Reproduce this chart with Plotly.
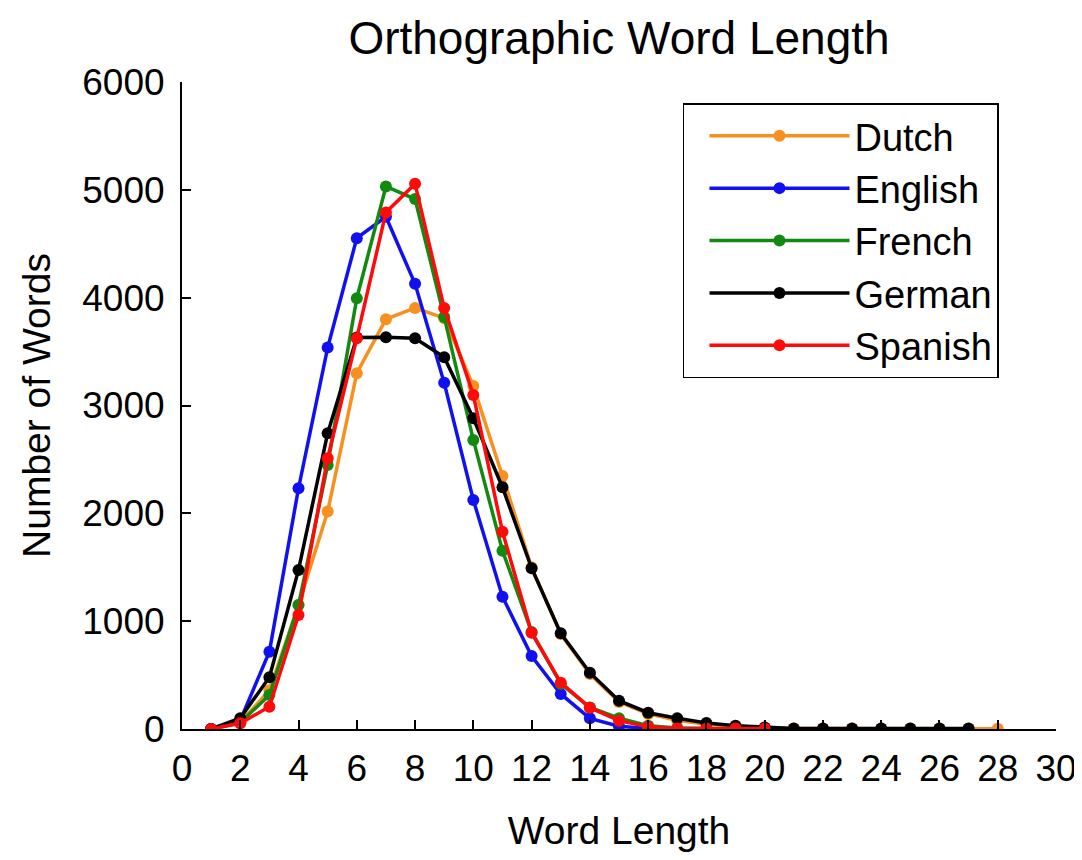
import plotly.graph_objects as go

# Word length categories per language
dutch_x = list(range(1, 29))
dutch_y = [0, 60, 360, 1150, 2016, 3300, 3800, 3905, 3810, 3180, 2347, 1500, 880, 510,
           250, 140, 80, 45, 25, 12, 5, 5, 5, 5, 5, 5, 5, 3]

english_x = list(range(1, 17))
english_y = [0, 80, 717, 2233, 3537, 4552, 4750, 4128, 3210, 2124, 1227, 677, 325, 99, 25, 5]

french_x = list(range(1, 19))
french_y = [0, 60, 315, 1150, 2449, 3995, 5031, 4914, 3820, 2681, 1654, 900, 420, 200,
            100, 30, 10, 5]

german_x = list(range(1, 28))
german_y = [0, 100, 480, 1475, 2743, 3630, 3633, 3624, 3448, 2882, 2242, 1491, 888, 522,
            263, 151, 99, 55, 30, 15, 5, 5, 5, 5, 5, 5, 5]

spanish_x = list(range(1, 21))
spanish_y = [0, 53, 207, 1057, 2511, 3624, 4790, 5056, 3905, 3098, 1830, 893, 430, 198,
             77, 20, 5, 5, 5, 5]

series = [
    ("Dutch", dutch_x, dutch_y, "#F7901E"),
    ("English", english_x, english_y, "#1010F0"),
    ("French", french_x, french_y, "#128A12"),
    ("German", german_x, german_y, "#000000"),
    ("Spanish", spanish_x, spanish_y, "#FF0A0A"),
]

FONT = "Liberation Sans, Arial, sans-serif"

fig = go.Figure()
for name, xs, ys, col in series:
    fig.add_trace(go.Scatter(
        x=xs, y=ys, name=name, mode="lines+markers",
        line=dict(color=col, width=3.5),
        marker=dict(color=col, size=12),
    ))

W, H = 1074, 844
fig.update_layout(
    width=W, height=H,
    margin=dict(l=174, r=26, t=74, b=123, autoexpand=False),
    paper_bgcolor="white", plot_bgcolor="white",
    font=dict(family=FONT, color="black"),
    title=dict(text="Orthographic Word Length", x=0.5, xref="paper",
               y=1 - 30 / H, yanchor="middle",
               font=dict(size=46, family=FONT, color="black")),
    legend=dict(x=0.5732, y=0.9675, xanchor="left", yanchor="top",
                bordercolor="black", borderwidth=1.5, bgcolor="white",
                font=dict(size=38, family=FONT, color="black"),
                itemwidth=140, indentation=20, tracegroupgap=0),
    showlegend=True,
)

fig.update_xaxes(
    range=[0, 30], dtick=2, tick0=0, automargin=False,
    showline=True, linecolor="black", linewidth=2,
    ticks="inside", ticklen=9, tickwidth=2, tickcolor="black",
    showgrid=False, zeroline=False,
    tickfont=dict(size=37, family=FONT, color="black"),
    ticklabelstandoff=6,
    title=dict(text="Word Length", font=dict(size=39, family=FONT, color="black"),
               standoff=33),
)
fig.update_yaxes(
    range=[0, 6000], dtick=1000, tick0=0, automargin=False,
    showline=True, linecolor="black", linewidth=2,
    ticks="inside", ticklen=9, tickwidth=2, tickcolor="black",
    showgrid=False, zeroline=False,
    tickfont=dict(size=37, family=FONT, color="black"),
    ticklabelstandoff=8,
    title=dict(text="Number of Words", font=dict(size=39, family=FONT, color="black"),
               standoff=20),
)

fig.write_html("out.html")
